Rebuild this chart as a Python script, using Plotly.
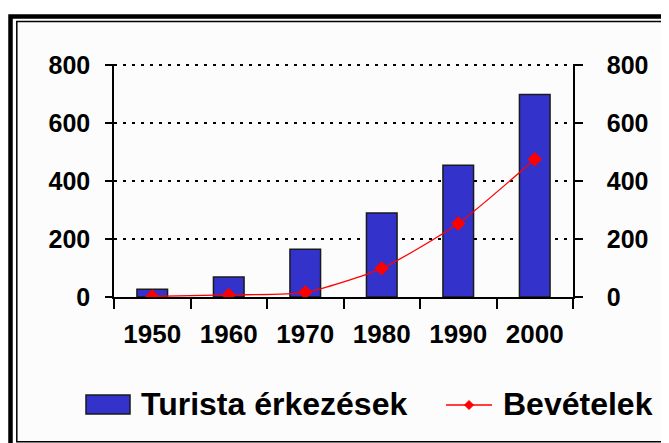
import plotly.graph_objects as go

years = ["1950", "1960", "1970", "1980", "1990", "2000"]
arrivals = [27, 69, 165, 290, 455, 700]
receipts = [2, 7, 16, 99, 254, 476]
series_names = ["Turista érkezések", "Bevételek"]
y_ticks = [0, 200, 400, 600, 800]

OFF = 8  # page body margin
W, H = 669 - OFF, 443 - OFF
# plot area in page pixels (top slightly above the 800 line so its gridline is drawn)
L, R, T, B = 114, 573, 64, 297
l, r, t, b = L - OFF, R - OFF, T - OFF, B - OFF

def px(x):
    return (x - L) / (R - L)

def py(y):
    return (B - y) / (B - T)

FONT = "Liberation Sans, Arial, sans-serif"
BLUE = "#3333CC"
RED = "#FF0000"

fig = go.Figure()
fig.add_trace(go.Bar(
    x=years, y=arrivals, name=series_names[0], width=0.4,
    marker=dict(color=BLUE, line=dict(color="#1a1a1a", width=1.5)),
    showlegend=False,
))
fig.add_trace(go.Scatter(
    x=years, y=receipts, name=series_names[1], yaxis="y2", mode="lines+markers",
    line=dict(color=RED, width=1.3, shape="spline", smoothing=0.6),
    marker=dict(symbol="diamond", size=11, color=RED),
    showlegend=False,
))

tickfont = dict(family=FONT, size=25, color="black", weight="bold")
bounds = [i - 0.5 for i in range(len(years) + 1)]
yr = [0, 805]

fig.update_layout(
    width=W, height=H,
    margin=dict(l=l, r=W - r, t=t, b=H - b, pad=0),
    paper_bgcolor="white", plot_bgcolor="rgba(0,0,0,0)",
    showlegend=False,
    xaxis=dict(
        type="category", categoryorder="array", categoryarray=years,
        range=[-0.5, 5.5], tickson="boundaries", ticks="outside", ticklen=10,
        tickwidth=1.5, tickcolor="black", showline=True, linecolor="black",
        linewidth=1.5, showgrid=False,
        tickfont=dict(family=FONT, size=26, color="black", weight="bold"),
        ticklabelstandoff=13,
    ),
    xaxis2=dict(
        overlaying="x", anchor="y", side="bottom", range=[-0.5, 5.5],
        tickvals=bounds, ticks="inside", ticklen=7, tickwidth=1.5, tickcolor="black",
        showticklabels=False, showgrid=False, showline=False, zeroline=False,
    ),
    yaxis=dict(
        range=yr, tickvals=y_ticks, ticks="outside", ticklen=7, tickwidth=1.5,
        tickcolor="black", showline=True, linecolor="black", linewidth=1.5,
        showgrid=True, gridcolor="black", gridwidth=2, griddash="3px,6px",
        zeroline=False, tickfont=tickfont, ticklabelstandoff=10,
    ),
    yaxis2=dict(
        overlaying="y", side="right", anchor="x", range=yr, tickvals=y_ticks,
        ticks="outside", ticklen=8, tickwidth=1.5, tickcolor="black",
        showline=True, linecolor="black", linewidth=1.5, showgrid=False,
        zeroline=False, tickfont=tickfont, ticklabelstandoff=19,
    ),
    yaxis3=dict(
        overlaying="y", side="left", anchor="x", range=yr, tickvals=y_ticks,
        ticks="inside", ticklen=6, tickwidth=1.5, tickcolor="black",
        showticklabels=False, showgrid=False, showline=False, zeroline=False,
    ),
    yaxis4=dict(
        overlaying="y", side="right", anchor="x", range=yr, tickvals=y_ticks,
        ticks="inside", ticklen=10, tickwidth=1.5, tickcolor="black",
        showticklabels=False, showgrid=False, showline=False, zeroline=False,
    ),
)

shapes = []
# inner background
shapes.append(dict(type="rect", xref="paper", yref="paper", layer="below",
                   x0=px(17), x1=px(680), y0=py(21), y1=py(441.5),
                   fillcolor="#fcfcfc", line=dict(width=0)))
# outer thick frame
shapes.append(dict(type="rect", xref="paper", yref="paper",
                   x0=px(10.5), x1=px(700), y0=py(16.5), y1=py(460),
                   line=dict(color="black", width=4.5)))
# inner thin frame
shapes.append(dict(type="rect", xref="paper", yref="paper",
                   x0=px(16.8), x1=px(690), y0=py(21.5), y1=py(441.7),
                   line=dict(color="black", width=1.5)))
# legend: bar swatch
shapes.append(dict(type="rect", xref="paper", yref="paper",
                   x0=px(86), x1=px(130), y0=py(414), y1=py(395),
                   fillcolor=BLUE, line=dict(color="#1a1a1a", width=1.5)))
# legend: line swatch
shapes.append(dict(type="line", xref="paper", yref="paper",
                   x0=px(446), x1=px(492), y0=py(405), y1=py(405),
                   line=dict(color=RED, width=1.5)))
cx, cy, d = 469, 405, 4.5
path = "M {} {} L {} {} L {} {} L {} {} Z".format(
    px(cx - d), py(cy), px(cx), py(cy - d), px(cx + d), py(cy), px(cx), py(cy + d))
shapes.append(dict(type="path", xref="paper", yref="paper", path=path,
                   fillcolor=RED, line=dict(color=RED, width=1)))
fig.update_layout(shapes=shapes)

legfont = dict(family=FONT, size=32, color="black", weight="bold")
fig.add_annotation(x=px(139), y=py(404), xref="paper", yref="paper", text=series_names[0],
                   showarrow=False, xanchor="left", yanchor="middle", font=legfont)
fig.add_annotation(x=px(501), y=py(404), xref="paper", yref="paper", text=series_names[1],
                   showarrow=False, xanchor="left", yanchor="middle", font=legfont)

fig.write_html("out.html")
